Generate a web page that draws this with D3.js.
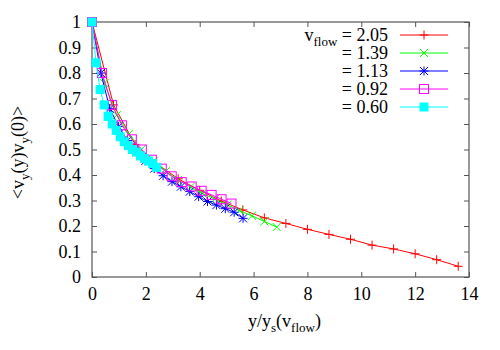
<!DOCTYPE html>
<html>
<head>
<meta charset="utf-8">
<script src="https://cdn.jsdelivr.net/npm/d3@7"></script>
<style>
  body { margin: 0; background: #fff; }
  svg text { font-family: "Liberation Serif", "Times New Roman", serif; fill: #000; }
</style>
</head>
<body>
<div id="chart"></div>
<script>
// data, one array pair per series
const labels = ["2.05", "1.39", "1.13", "0.92", "0.60"];
const colors = ["#ff0000", "#00ff00", "#0000ff", "#ff00ff", "#00ffff"];
const symbols = ["plus", "cross", "star", "square", "filled"];

const xRed = [0, 0.8, 1.6, 2.4, 3.2, 4.0, 4.8, 5.6, 6.4, 7.2, 8.0, 8.8, 9.6, 10.4, 11.2, 12.0, 12.8, 13.6];
const yRed = [1, 0.675, 0.52, 0.445, 0.385, 0.34, 0.298, 0.263, 0.232, 0.21, 0.187, 0.167, 0.148, 0.125, 0.11, 0.091, 0.068, 0.042];

const xGreen = [0, 0.46, 0.92, 1.37, 1.83, 2.29, 2.74, 3.2, 3.66, 4.11, 4.57, 5.03, 5.48, 5.94, 6.4, 6.86];
const yGreen = [1, 0.76, 0.635, 0.56, 0.5, 0.455, 0.415, 0.38, 0.353, 0.327, 0.305, 0.283, 0.26, 0.24, 0.218, 0.196];

const xBlue = [0, 0.33, 0.66, 0.99, 1.32, 1.65, 1.98, 2.31, 2.64, 2.97, 3.3, 3.63, 3.96, 4.29, 4.62, 4.95, 5.28, 5.61];
const yBlue = [1, 0.8, 0.66, 0.59, 0.535, 0.49, 0.455, 0.425, 0.397, 0.374, 0.354, 0.335, 0.315, 0.296, 0.282, 0.268, 0.254, 0.23];

const xMagenta = [0, 0.37, 0.74, 1.11, 1.48, 1.85, 2.22, 2.59, 2.96, 3.33, 3.7, 4.07, 4.44, 4.81, 5.18];
const yMagenta = [1, 0.8, 0.675, 0.595, 0.54, 0.5, 0.46, 0.425, 0.395, 0.372, 0.355, 0.338, 0.322, 0.305, 0.288];

const xCyan = [0, 0.15, 0.3, 0.45, 0.6, 0.75, 0.9, 1.05, 1.2, 1.35, 1.5, 1.65, 1.8, 1.95, 2.1, 2.25, 2.4];
const yCyan = [1, 0.84, 0.735, 0.675, 0.63, 0.6, 0.575, 0.55, 0.53, 0.515, 0.5, 0.49, 0.475, 0.465, 0.455, 0.445, 0.43];

const xTicks = [0, 2, 4, 6, 8, 10, 12, 14];
const yTicks = [0, 0.1, 0.2, 0.3, 0.4, 0.5, 0.6, 0.7, 0.8, 0.9, 1];

const seriesX = [xRed, xGreen, xBlue, xMagenta, xCyan];
const seriesY = [yRed, yGreen, yBlue, yMagenta, yCyan];

const width = 500, height = 350;
const mLeft = 92, mRight = 469, mTop = 22, mBottom = 277;
const fontMain = "18px", fontSub = "13px";

const svg = d3.select("#chart").append("svg")
  .attr("width", width)
  .attr("height", height);

const x = d3.scaleLinear().domain([0, 14]).range([mLeft, mRight]);
const y = d3.scaleLinear().domain([0, 1]).range([mBottom, mTop]);

// frame + inward ticks (gnuplot style, mirrored)
const axisColor = "#555";
const tick = 5;

svg.append("g")
  .attr("transform", `translate(0,${mBottom})`)
  .call(d3.axisBottom(x).tickValues(xTicks).tickSize(-tick).tickPadding(10).tickFormat(d3.format("d")))
  .call(g => g.select(".domain").remove());
svg.append("g")
  .attr("transform", `translate(0,${mTop})`)
  .call(d3.axisTop(x).tickValues(xTicks).tickSize(-tick).tickFormat(""))
  .call(g => g.select(".domain").remove());
svg.append("g")
  .attr("transform", `translate(${mLeft},0)`)
  .call(d3.axisLeft(y).tickValues(yTicks).tickSize(-tick).tickPadding(11).tickFormat(d => d === 0 || d === 1 ? d3.format("d")(d) : d3.format(".1f")(d)))
  .call(g => g.select(".domain").remove());
svg.append("g")
  .attr("transform", `translate(${mRight},0)`)
  .call(d3.axisRight(y).tickValues(yTicks).tickSize(-tick).tickFormat(""))
  .call(g => g.select(".domain").remove());

svg.selectAll("g").attr("font-family", null).attr("font-size", null);
svg.selectAll(".tick line").attr("stroke", axisColor);
svg.selectAll(".tick text")
  .style("font-size", fontMain)
  .attr("fill", "#000");

svg.append("rect")
  .attr("x", mLeft).attr("y", mTop)
  .attr("width", mRight - mLeft).attr("height", mBottom - mTop)
  .attr("fill", "none")
  .attr("stroke", axisColor)
  .attr("stroke-width", 1.2);

// marker drawing
function drawMarker(g, kind, color, cx, cy) {
  const s = 4.5;
  if (kind === "plus" || kind === "star") {
    g.append("path").attr("d", `M${cx - s},${cy}H${cx + s}M${cx},${cy - s}V${cy + s}`)
      .attr("stroke", color).attr("fill", "none");
  }
  if (kind === "cross" || kind === "star") {
    const c = s * 0.9;
    g.append("path").attr("d", `M${cx - c},${cy - c}L${cx + c},${cy + c}M${cx - c},${cy + c}L${cx + c},${cy - c}`)
      .attr("stroke", color).attr("fill", "none");
  }
  if (kind === "square") {
    g.append("rect").attr("x", cx - s).attr("y", cy - s).attr("width", 2 * s).attr("height", 2 * s)
      .attr("stroke", color).attr("fill", "none");
  }
  if (kind === "filled") {
    g.append("rect").attr("x", cx - s).attr("y", cy - s).attr("width", 2 * s).attr("height", 2 * s)
      .attr("fill", color);
  }
}

const line = d3.line().x(d => x(d[0])).y(d => y(d[1]));

seriesX.forEach((xs, i) => {
  const pts = xs.map((v, j) => [v, seriesY[i][j]]);
  const g = svg.append("g");
  g.append("path")
    .datum(pts)
    .attr("d", line)
    .attr("fill", "none")
    .attr("stroke", colors[i])
    .attr("stroke-width", 1);
  pts.forEach(p => drawMarker(g, symbols[i], colors[i], x(p[0]), y(p[1])));
});

// legend
const legX = 388, legLine0 = 400, legLine1 = 448, legY0 = 35, legDy = 18;
labels.forEach((lab, i) => {
  const ly = legY0 + i * legDy;
  const t = svg.append("text")
    .attr("x", legX).attr("y", ly + 5.5)
    .attr("text-anchor", "end")
    .style("font-size", fontMain);
  if (i === 0) {
    t.append("tspan").text("v");
    t.append("tspan").attr("dy", 5).style("font-size", fontSub).text("flow");
    t.append("tspan").attr("dy", -5).text(" = " + lab);
  } else {
    t.text("= " + lab);
  }
  svg.append("line")
    .attr("x1", legLine0).attr("x2", legLine1)
    .attr("y1", ly).attr("y2", ly)
    .attr("stroke", colors[i]);
  drawMarker(svg.append("g"), symbols[i], colors[i], (legLine0 + legLine1) / 2, ly);
});

// axis labels
const xl = svg.append("text")
  .attr("x", (mLeft + mRight) / 2 + 4).attr("y", 327)
  .attr("text-anchor", "middle")
  .style("font-size", fontMain);
xl.append("tspan").text("y/y");
xl.append("tspan").attr("dy", 5).style("font-size", fontSub).text("s");
xl.append("tspan").attr("dy", -5).text("(v");
xl.append("tspan").attr("dy", 5).style("font-size", fontSub).text("flow");
xl.append("tspan").attr("dy", -5).text(")");

const yl = svg.append("text")
  .attr("transform", `translate(24,${(mTop + mBottom) / 2 + 3}) rotate(-90)`)
  .attr("text-anchor", "middle")
  .style("font-size", fontMain);
yl.append("tspan").text("<v");
yl.append("tspan").attr("dy", 5).style("font-size", fontSub).text("y");
yl.append("tspan").attr("dy", -5).text("(y)v");
yl.append("tspan").attr("dy", 5).style("font-size", fontSub).text("y");
yl.append("tspan").attr("dy", -5).text("(0)>");
</script>
</body>
</html>
